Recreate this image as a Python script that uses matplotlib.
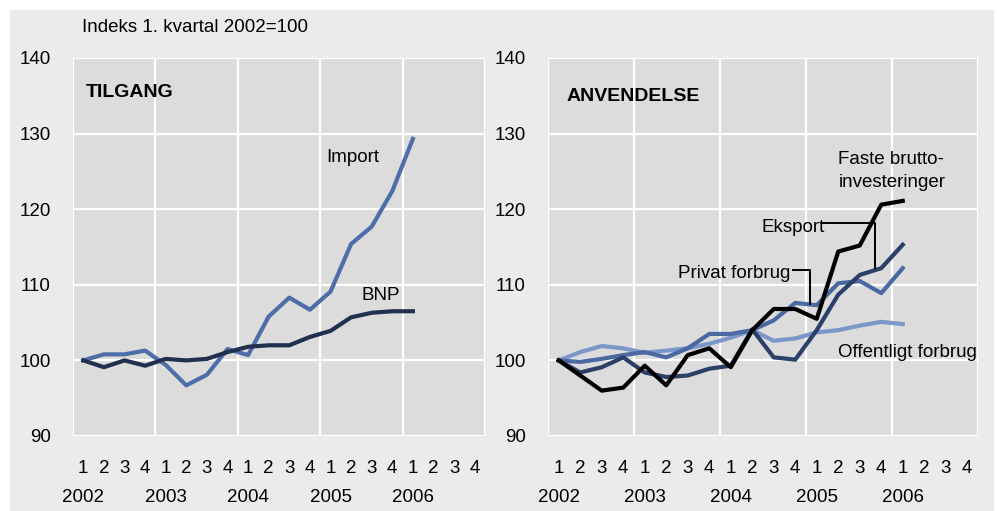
import matplotlib.pyplot as plt
from matplotlib.patches import Rectangle
import matplotlib.transforms as mtransforms

plt.rcParams['font.family'] = ['Liberation Sans Narrow', 'Liberation Sans', 'DejaVu Sans']

quarters = ['1', '2', '3', '4'] * 5
years = ['2002', '2003', '2004', '2005', '2006']

# TILGANG
import_ = [100, 100.8, 100.8, 101.3, 99.4, 96.7, 98.1, 101.5, 100.7, 105.8,
           108.3, 106.7, 109.1, 115.4, 117.7, 122.4, 129.3]
bnp = [100, 99.1, 100, 99.3, 100.2, 100, 100.2, 101.1, 101.8, 102, 102,
       103.1, 103.9, 105.7, 106.3, 106.5, 106.5]

# ANVENDELSE
faste = [100, 98.0, 96.0, 96.4, 99.3, 96.7, 100.7, 101.6, 99.1, 104.0,
         106.8, 106.8, 105.5, 114.4, 115.2, 120.6, 121.1]
eksport = [100, 98.4, 99.1, 100.4, 98.4, 97.8, 98.0, 98.9, 99.3, 104.1,
           100.4, 100.1, 104.0, 108.7, 111.3, 112.2, 115.3]
privat = [100, 99.8, 100.2, 100.7, 101.1, 100.4, 101.6, 103.5, 103.5, 104.0,
          105.3, 107.6, 107.3, 110.2, 110.5, 108.9, 112.2]
offentligt = [100, 101.1, 101.9, 101.6, 101.0, 101.3, 101.6, 102.2, 103.0,
              104.0, 102.6, 102.9, 103.7, 104.0, 104.6, 105.1, 104.8]

fs = 13.5

fig = plt.figure(figsize=(9.97, 5.11), dpi=100)
fig.patches.append(Rectangle((10 / 997, 0), 983 / 997, 1 - 10 / 511,
                             transform=fig.transFigure, color='#ebebeb', zorder=-10))

ax1 = fig.add_axes([73 / 997, 75 / 511, 412 / 997, 378 / 511])
ax2 = fig.add_axes([548 / 997, 75 / 511, 430 / 997, 378 / 511])

for ax in (ax1, ax2):
    ax.set_facecolor('#dcdcdc')
    ax.set_xlim(-0.5, 19.5)
    ax.set_ylim(90, 140)
    ax.set_yticks([90, 100, 110, 120, 130, 140])
    ax.set_xticks(range(20))
    ax.set_xticklabels(quarters)
    for v in [-0.5, 3.5, 7.5, 11.5, 15.5, 19.5]:
        ax.axvline(v, color='white', lw=1.6, zorder=1)
    for v in [90, 100, 110, 120, 130, 140]:
        ax.axhline(v, color='white', lw=1.6, zorder=1)
    for s in ax.spines.values():
        s.set_visible(False)
    ax.tick_params(length=0, labelsize=fs)
    ax.tick_params(axis='x', pad=17)
    ax.tick_params(axis='y', pad=16)
    trans = mtransforms.blended_transform_factory(ax.transData, ax.transAxes)
    for i, yr in enumerate(years):
        ax.text(i * 4, -0.163, yr, transform=trans, ha='center', va='center', fontsize=fs)

x = range(len(import_))
ax1.plot(x, import_, color='#4e6ea8', lw=3, zorder=3)
ax1.plot(x, bnp, color='#22304f', lw=3, zorder=3)
ax1.text(0.032, 0.908, 'TILGANG', transform=ax1.transAxes, fontsize=14,
         fontweight='bold', va='center')
ax1.text(11.8, 126.9, 'Import', fontsize=fs, va='center')
ax1.text(13.5, 108.6, 'BNP', fontsize=fs, va='center')

ax2.plot(x, offentligt, color='#7b96c8', lw=3, zorder=3)
ax2.plot(x, privat, color='#4a69a3', lw=3, zorder=4)
ax2.plot(x, eksport, color='#2b3f68', lw=3, zorder=5)
ax2.plot(x, faste, color='#000000', lw=3, zorder=6)
ax2.text(0.044, 0.897, 'ANVENDELSE', transform=ax2.transAxes, fontsize=14,
         fontweight='bold', va='center')
ax2.text(13.0, 125.0, 'Faste brutto-\ninvesteringer', fontsize=fs, va='center',
         linespacing=1.45)
ax2.text(9.44, 117.6, 'Eksport', fontsize=fs, va='center')
ax2.plot([12.25, 14.7, 14.7], [118.2, 118.2, 112.2], color='black', lw=1.4, zorder=7)
ax2.text(5.55, 111.5, 'Privat forbrug', fontsize=fs, va='center')
ax2.plot([10.9, 11.7, 11.7], [111.9, 111.9, 107.5], color='black', lw=1.4, zorder=7)
ax2.text(13.0, 101.1, 'Offentligt forbrug', fontsize=fs, va='center')

fig.text(82 / 997, 1 - 27 / 511, 'Indeks 1. kvartal 2002=100', fontsize=fs, va='center')

fig.savefig('out.png', dpi=100)
